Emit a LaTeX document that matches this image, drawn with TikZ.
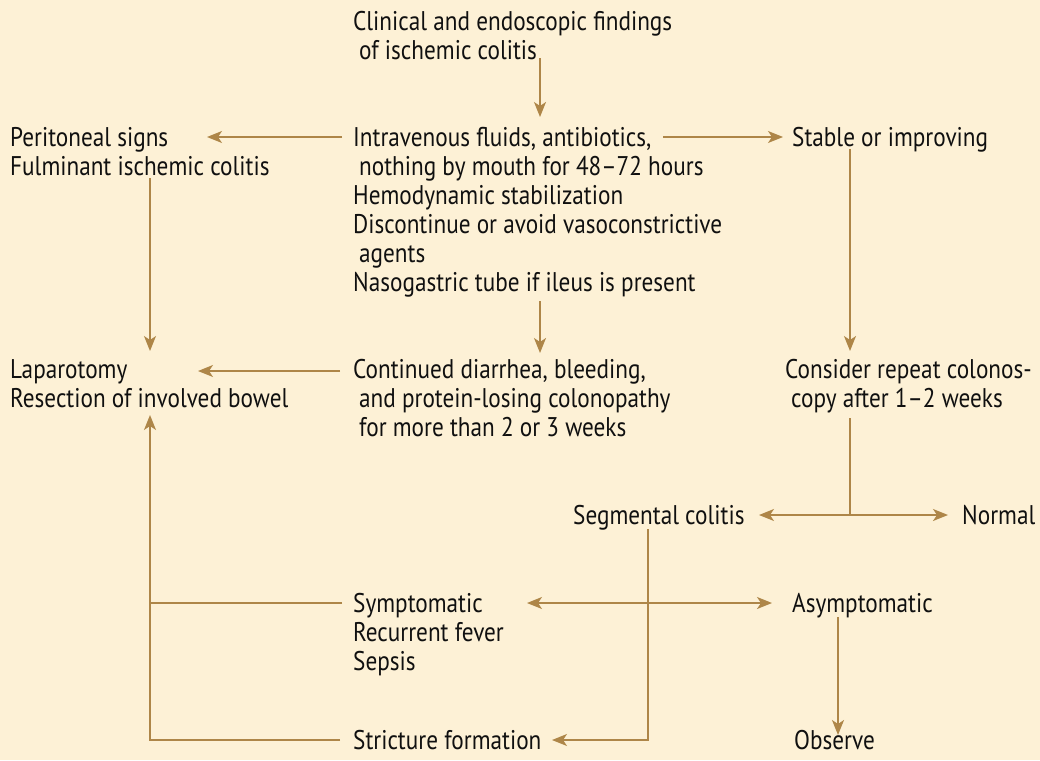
\documentclass[tikz,border=0pt]{standalone}
\usepackage{fontspec}
\setmainfont[FakeStretch=0.86]{PT Sans}
\usetikzlibrary{arrows.meta}
\definecolor{bgc}{HTML}{FDF1D6}
\definecolor{lc}{HTML}{AE8648}
\definecolor{tc}{HTML}{101010}
\newcommand\firststrut{\rule{0pt}{21pt}}
\tikzset{
  txt/.style={anchor=north west, inner sep=0pt, align=left, text=tc,
              font=\fontsize{27}{29}\selectfont},
  ln/.style={draw=lc, line width=1.5pt},
  arr/.style={ln, -{Stealth[length=15pt,width=12pt,inset=4pt]}},
  darr/.style={ln, {Stealth[length=15pt,width=12pt,inset=4pt]}-{Stealth[length=15pt,width=12pt,inset=4pt]}}
}
\begin{document}
\begin{tikzpicture}[x=1pt,y=-1pt]
\fill[bgc] (0,0) rectangle (1040,760);
\useasboundingbox (0,0) rectangle (1040,760);

% text nodes
\node[txt] (clin) at (353,9) {\firststrut Clinical and endoscopic findings\\\hspace*{6pt}of ischemic colitis};
\node[txt] (iv) at (353,125) {\firststrut Intravenous fluids, antibiotics,\\\hspace*{6pt}nothing by mouth for 48--72 hours\\Hemodynamic stabilization\\Discontinue or avoid vasoconstrictive\\\hspace*{6pt}agents\\Nasogastric tube if ileus is present};
\node[txt] (per) at (10,125) {\firststrut Peritoneal signs\\Fulminant ischemic colitis};
\node[txt] (stab) at (792,125) {\firststrut Stable or improving};
\node[txt] (lap) at (10,357) {\firststrut Laparotomy\\Resection of involved bowel};
\node[txt] (cont) at (353,357) {\firststrut Continued diarrhea, bleeding,\\\hspace*{6pt}and protein-losing colonopathy\\\hspace*{6pt}for more than 2 or 3 weeks};
\node[txt] (cons) at (785,357) {\firststrut Consider repeat colonos-\\\hspace*{6pt}copy after 1--2 weeks};
\node[txt] (seg) at (573,503) {\firststrut Segmental colitis};
\node[txt] (norm) at (962,503) {\firststrut Normal};
\node[txt] (sym) at (353,591) {\firststrut Symptomatic\\Recurrent fever\\Sepsis};
\node[txt] (asym) at (792,591) {\firststrut Asymptomatic};
\node[txt] (stric) at (353,728) {\firststrut Stricture formation};
\node[txt] (obs) at (794,728) {\firststrut Observe};

% junction coordinates
\coordinate (clinS) at (540,58);
\coordinate (ivN) at (540,117);
\coordinate (ivW) at (342,137);
\coordinate (perE) at (207,137);
\coordinate (ivE) at (663,137);
\coordinate (stabW) at (783,137);
\coordinate (perS) at (150,178);
\coordinate (lapN) at (150,351);
\coordinate (contW) at (340,371);
\coordinate (lapE) at (198,371);
\coordinate (ivS) at (540,301);
\coordinate (contN) at (540,353);
\coordinate (stabS) at (850,149);
\coordinate (consN) at (850,351);
\coordinate (consS) at (850,418);
\coordinate (split) at (850,515);
\coordinate (segE) at (759,515);
\coordinate (normW) at (948,515);
\coordinate (segS) at (648,529);
\coordinate (segC) at (648,740);
\coordinate (stricE) at (552,740);
\coordinate (symE) at (527,603);
\coordinate (asymW) at (772,603);
\coordinate (symW) at (342,603);
\coordinate (symL) at (150,603);
\coordinate (stricW) at (340,740);
\coordinate (stricL) at (150,740);
\coordinate (lapS) at (150,415);
\coordinate (asymS) at (838,617);
\coordinate (obsN) at (838,735);

% connectors
\draw[arr] (clinS) -- (ivN);
\draw[arr] (ivW) -- (perE);
\draw[arr] (ivE) -- (stabW);
\draw[arr] (perS) -- (lapN);
\draw[arr] (contW) -- (lapE);
\draw[arr] (ivS) -- (contN);
\draw[arr] (stabS) -- (consN);
\draw[ln] (consS) -- (split);
\draw[arr] (split) -- (segE);
\draw[arr] (split) -- (normW);
\draw[arr] (segS) -- (segC) -- (stricE);
\draw[darr] (symE) -- (asymW);
\draw[ln] (symW) -- (symL);
\draw[arr] (stricW) -- (stricL) -- (lapS);
\draw[arr] (asymS) -- (obsN);
\end{tikzpicture}
\end{document}
